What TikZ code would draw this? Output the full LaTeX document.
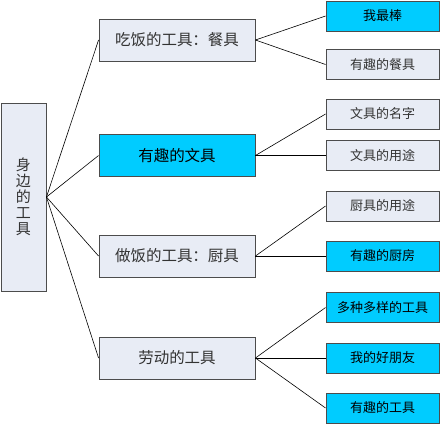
\documentclass[tikz,border=0pt]{standalone}
\usepackage{fontspec}
\newfontfamily\cjk{Noto Sans CJK SC}
\definecolor{boxfill}{HTML}{E8ECF5}
\definecolor{hilite}{HTML}{00CCFF}
\begin{document}
\begin{tikzpicture}[x=1pt,y=-1pt,font=\cjk,text=black!80,
  box/.style={draw=black!70,line width=0.9pt,fill=boxfill,inner sep=0pt},
  hot/.style={box,fill=hilite,text=black},
  topic/.style={minimum width=156pt,minimum height=42pt,font=\cjk\fontsize{15.5}{17}\selectfont},
  leaf/.style={minimum width=113pt,minimum height=30pt,font=\cjk\fontsize{13}{15}\selectfont}]
\useasboundingbox(0,0)rectangle(440,424);
% root
\node[box,minimum width=45pt,minimum height=188pt,align=center,font=\cjk\fontsize{15}{16}\selectfont](root)at(23.5,197){身\\边\\的\\工\\具};
% topics
\node[box,topic](food)at(177,40){吃饭的工具：餐具};
\node[hot,topic](stat)at(177,155.5){有趣的文具};
\node[box,topic](cook)at(177,256){做饭的工具：厨具};
\node[box,topic](work)at(177,358){劳动的工具};
% leaves
\node[hot,leaf](best)at(382.5,16){我最棒};
\node[box,leaf](funfood)at(382.5,64.5){有趣的餐具};
\node[box,leaf](name)at(382.5,114){文具的名字};
\node[box,leaf](usestat)at(382.5,155.5){文具的用途};
\node[box,leaf](usecook)at(382.5,206){厨具的用途};
\node[hot,leaf](kitchen)at(382.5,256){有趣的厨房};
\node[hot,leaf](many)at(382.5,307.5){多种多样的工具};
\node[hot,leaf](friend)at(382.5,358){我的好朋友};
\node[hot,leaf](funwork)at(382.5,408){有趣的工具};
% links
\foreach \t in {food,stat,cook,work}{\draw[line width=0.6pt](root.east)--(\t.west);}
\foreach \t/\l in {food/best,food/funfood,stat/name,stat/usestat,cook/usecook,cook/kitchen,work/many,work/friend,work/funwork}{\draw[line width=0.6pt](\t.east)--(\l.west);}
\end{tikzpicture}
\end{document}
